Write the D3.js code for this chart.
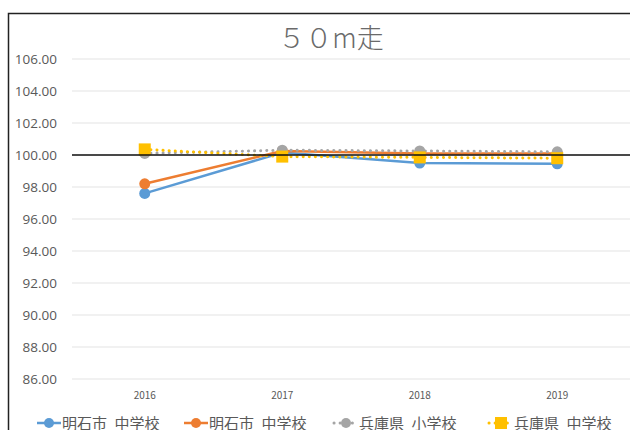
<!DOCTYPE html>
<html>
<head>
<meta charset="utf-8">
<script src="https://cdn.jsdelivr.net/npm/d3@7"></script>
<style>
  body { margin: 0; background: #fff; }
  text { font-family: "Noto Sans CJK JP", "Noto Sans", sans-serif; }
</style>
</head>
<body>
<svg id="drawspace" width="630" height="430"></svg>
<script>
let years = ["2016", "2017", "2018", "2019"];
let yTicks = [86, 88, 90, 92, 94, 96, 98, 100, 102, 104, 106];

let akashiChu1 = [97.6, 100.15, 99.5, 99.45];
let akashiChu2 = [98.2, 100.25, 100.1, 100.1];
let hyogoSho = [100.1, 100.3, 100.25, 100.2];
let hyogoChu = [100.35, 99.9, 99.85, 99.8];

let seriesNames = ["明石市\u2002中学校", "明石市\u2002中学校", "兵庫県\u2002小学校", "兵庫県\u2002中学校"];

let drawSpace = d3.select("#drawspace");

let series = [
  { name: seriesNames[0], values: akashiChu1, color: "#5b9bd5", dash: null, marker: "circle" },
  { name: seriesNames[1], values: akashiChu2, color: "#ed7d31", dash: null, marker: "circle" },
  { name: seriesNames[2], values: hyogoSho, color: "#a5a5a5", dash: "0.1 6", marker: "circle" },
  { name: seriesNames[3], values: hyogoChu, color: "#ffc000", dash: "0.1 6", marker: "square" }
];

// chart frame (top and left edges)
drawSpace.append("path")
  .attr("d", "M8.5,430 L8.5,13.5 L630,13.5")
  .attr("fill", "none")
  .attr("stroke", "#222")
  .attr("stroke-width", 1.5);

// title
drawSpace.append("text")
  .attr("x", 331).attr("y", 48)
  .attr("text-anchor", "middle")
  .attr("font-size", 27)
  .attr("font-weight", 300)
  .attr("fill", "#6a6a6a")
  .text("５０m走");

let xScale = d3.scaleBand().domain(years).range([76, 626]);
let yScale = d3.scaleLinear().domain([86, 106]).range([379, 59]);

// grid
drawSpace.append("g")
  .selectAll("line")
  .data(yTicks)
  .enter()
  .append("line")
  .attr("x1", 72).attr("x2", 630)
  .attr("y1", d => yScale(d)).attr("y2", d => yScale(d))
  .attr("stroke", "#e3e3e3")
  .attr("stroke-width", 1);

// y labels
drawSpace.append("g")
  .selectAll("text")
  .data(yTicks)
  .enter()
  .append("text")
  .attr("x", 57)
  .attr("y", d => yScale(d) + 5)
  .attr("text-anchor", "end")
  .attr("font-size", 13.5)
  .attr("fill", "#595959")
  .style("font-family", "'Open Sans', 'Noto Sans', sans-serif")
  .text(d => d.toFixed(2));

// x labels
drawSpace.append("g")
  .selectAll("text")
  .data(years)
  .enter()
  .append("text")
  .attr("x", d => xScale(d) + xScale.bandwidth() / 2)
  .attr("y", 399)
  .attr("text-anchor", "middle")
  .attr("font-size", 10)
  .attr("fill", "#595959")
  .text(d => d);

let line = d3.line()
  .x((d, i) => xScale(years[i]) + xScale.bandwidth() / 2)
  .y(d => yScale(d));

for (let s of series) {
  drawSpace.append("path")
    .attr("d", line(s.values))
    .attr("fill", "none")
    .attr("stroke", s.color)
    .attr("stroke-width", s.dash ? 3 : 2.5)
    .attr("stroke-linecap", s.dash ? "round" : "butt")
    .attr("stroke-dasharray", s.dash);
}

for (let s of series) {
  let g = drawSpace.append("g");
  if (s.marker === "circle") {
    g.selectAll("circle")
      .data(s.values)
      .enter()
      .append("circle")
      .attr("cx", (d, i) => xScale(years[i]) + xScale.bandwidth() / 2)
      .attr("cy", d => yScale(d))
      .attr("r", 5.5)
      .attr("fill", s.color);
  } else {
    g.selectAll("rect")
      .data(s.values)
      .enter()
      .append("rect")
      .attr("x", (d, i) => xScale(years[i]) + xScale.bandwidth() / 2 - 6)
      .attr("y", d => yScale(d) - 6)
      .attr("width", 12).attr("height", 12)
      .attr("fill", s.color);
  }
}

// 100 baseline
drawSpace.append("line")
  .attr("x1", 72).attr("x2", 630)
  .attr("y1", yScale(100)).attr("y2", yScale(100))
  .attr("stroke", "#111")
  .attr("stroke-width", 1.5);

// legend
let legendX = [37, 184, 334, 489];
let legend = drawSpace.append("g");
series.forEach((s, i) => {
  let lg = legend.append("g").attr("transform", `translate(${legendX[i]},423)`);
  lg.append("line")
    .attr("x1", 0).attr("x2", 24)
    .attr("y1", 0).attr("y2", 0)
    .attr("stroke", s.color)
    .attr("stroke-width", s.dash ? 3 : 2.5)
    .attr("stroke-linecap", s.dash ? "round" : "butt")
    .attr("stroke-dasharray", s.dash);
  if (s.marker === "circle") {
    lg.append("circle").attr("cx", 12).attr("cy", 0).attr("r", 5).attr("fill", s.color);
  } else {
    lg.append("rect").attr("x", 6).attr("y", -6).attr("width", 12).attr("height", 12).attr("fill", s.color);
  }
  lg.append("text")
    .attr("x", 25).attr("y", 5.5)
    .attr("font-size", 15)
    .attr("fill", "#595959")
    .text(s.name);
});
</script>
</body>
</html>
